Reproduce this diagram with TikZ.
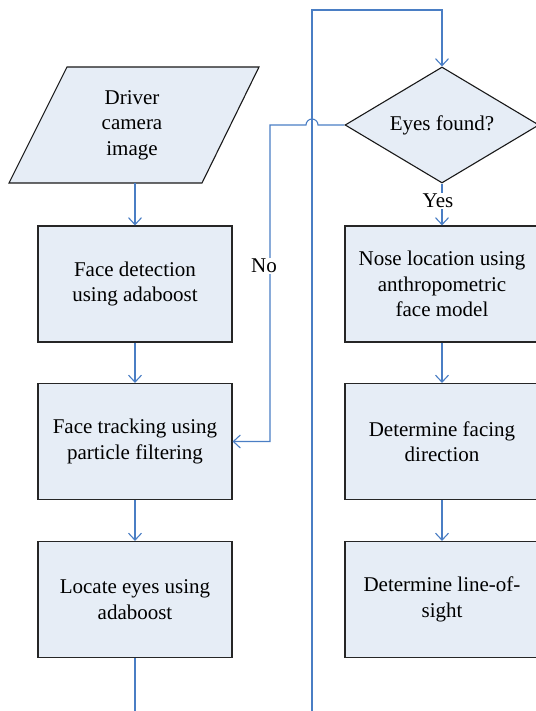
\documentclass[tikz,border=0pt]{standalone}
\usepackage{fontspec}
\setmainfont{Liberation Serif}
\usetikzlibrary{arrows.meta,shapes.geometric}
\definecolor{flowline}{HTML}{4A7EC4}
\definecolor{boxfill}{HTML}{E6EDF6}
\begin{document}
\begin{tikzpicture}[x=1pt,y=-1pt,
  label text/.style={font=\fontsize{21}{25.5}\selectfont},
  procbox/.style={label text, draw=black!85, line width=1.1pt, fill=boxfill,
    minimum width=194pt, minimum height=116pt, align=center, inner sep=0pt},
  decision/.style={label text, shape=diamond, draw=black!90, line width=1.1pt, fill=boxfill,
    minimum width=194pt, minimum height=116pt, inner sep=0pt, aspect=1.67},
  conn/.style={draw=flowline, line width=1.1pt, -{Straight Barb[length=7pt,width=13pt]}},
  plainconn/.style={draw=flowline, line width=1.1pt},
  edgelabel/.style={label text, fill=white, inner sep=1pt}]
\useasboundingbox (0,0) rectangle (535,711);

% input parallelogram
\draw[draw=black!90, line width=1.1pt, fill=boxfill]
  (67,67) -- (259,67) -- (202,183) -- (9,183) -- cycle;
\node[label text, align=center, minimum width=250pt, minimum height=116pt, inner sep=0pt]
  (cam) at (132,125) {Driver\\camera\\image};

% left column
\node[procbox] (fd) at (135,284)   {Face detection\\using adaboost};
\node[procbox] (ft) at (135,441.5) {Face tracking using\\particle filtering};
\node[procbox] (le) at (135,599.5) {Locate eyes using\\adaboost};

% right column
\node[decision] (eyes) at (442,125) {Eyes found?};
\node[procbox] (nose) at (442,284)   {Nose location using\\anthropometric\\face model};
\node[procbox] (face) at (442,441.5) {Determine facing\\direction};
\node[procbox] (los)  at (442,599.5) {Determine line-of-\\sight};

% loop-back coordinates
\coordinate (exitfoot) at (135,711);
\coordinate (loopfoot) at (312,711);
\coordinate (looptop)  at (442,10);
\coordinate (nocorner) at (270,125);

% connectors
\draw[conn] (fd.north |- cam.south) -- (fd.north);
\draw[conn] (fd) -- (ft);
\draw[conn] (ft) -- (le);
\draw[plainconn] (le.south) -- (exitfoot);

\draw[conn] (loopfoot) |- (looptop) -- (eyes.north);
\draw[conn] (eyes.west) -- (318,125) arc[start angle=0, end angle=-180, radius=6]
  -- (nocorner) |- (ft.east);
\node[edgelabel] (nolabel) at (264,266) {No};

\draw[conn] (eyes.south) -- (nose.north);
\node[edgelabel] (yeslabel) at (438,201) {Yes};
\draw[conn] (nose) -- (face);
\draw[conn] (face) -- (los);
\end{tikzpicture}
\end{document}
